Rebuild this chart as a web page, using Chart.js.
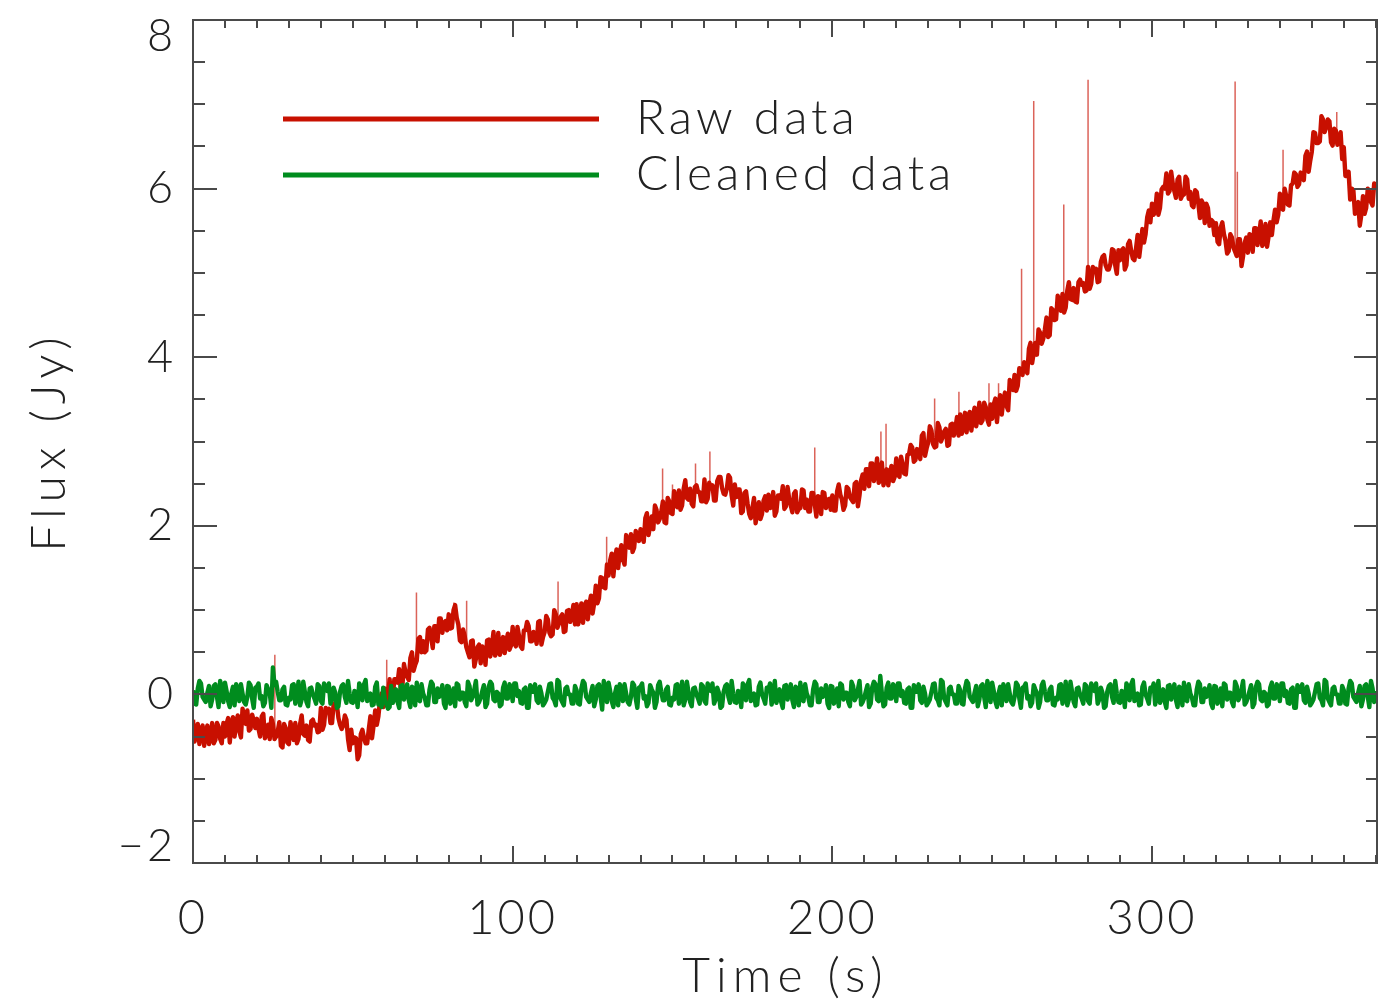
<!DOCTYPE html>
<html>
<head>
<meta charset="utf-8">
<title>Raw and cleaned flux</title>
<script src="https://cdn.jsdelivr.net/npm/chart.js@4.4.1/dist/chart.umd.min.js"></script>
<style>
    html, body { margin: 0; padding: 0; background: #fff; overflow: hidden; }
    #plot { display: block; }
</style>
</head>
<body>
<canvas id="plot" width="1378" height="1000"></canvas>
<script>
// Samples every half second: the *Flux arrays hold t = 0, 1, 2 ... s,
// the *FluxHalf arrays hold t = 0.5, 1.5, 2.5 ... s
const sampleStep = 1;

// Raw flux (Jy), red trace, whole seconds
const rawFlux = [
    -0.30, -0.47, -0.59, -0.37, -0.45, -0.59, -0.34, -0.54, -0.38, -0.58,
    -0.50, -0.28, -0.37, -0.50, -0.25, -0.51, -0.26, -0.19, -0.41, -0.31,
    -0.29, -0.50, -0.23, -0.44, -0.53, -0.35, -0.50, -0.33, -0.63, -0.40,
    -0.59, -0.43, -0.34, -0.53, -0.25, -0.49, -0.54, -0.32, -0.37, -0.45,
    -0.16, -0.36, -0.20, -0.34, -0.11, -0.12, -0.36, -0.37, -0.30, -0.66,
    -0.58, -0.52, -0.72, -0.42, -0.58, -0.41, -0.52, -0.19, -0.26, 0.01,
    0.07, -0.02, -0.07, 0.18, 0.14, 0.05, 0.36, 0.21, 0.43, 0.28,
    0.40, 0.68, 0.63, 0.52, 0.79, 0.55, 0.81, 0.90, 0.73, 0.87,
    0.95, 0.79, 1.06, 0.83, 0.62, 0.69, 0.50, 0.63, 0.33, 0.56,
    0.37, 0.54, 0.64, 0.45, 0.74, 0.51, 0.47, 0.68, 0.63, 0.53,
    0.80, 0.57, 0.69, 0.54, 0.76, 0.81, 0.63, 0.71, 0.86, 0.59,
    0.74, 0.89, 0.69, 1.00, 0.79, 0.92, 0.74, 0.99, 0.86, 1.06,
    1.07, 0.93, 0.85, 1.10, 1.07, 0.96, 1.29, 1.14, 1.38, 1.26,
    1.41, 1.67, 1.61, 1.50, 1.77, 1.54, 1.81, 1.90, 1.74, 1.88,
    1.96, 1.81, 2.15, 2.00, 1.96, 2.19, 2.08, 2.29, 2.03, 2.29,
    2.14, 2.31, 2.42, 2.24, 2.54, 2.31, 2.26, 2.46, 2.40, 2.29,
    2.55, 2.32, 2.45, 2.30, 2.53, 2.58, 2.38, 2.44, 2.57, 2.24,
    2.34, 2.43, 2.17, 2.41, 2.14, 2.21, 2.03, 2.28, 2.14, 2.35,
    2.37, 2.22, 2.12, 2.36, 2.32, 2.20, 2.46, 2.24, 2.38, 2.16,
    2.21, 2.42, 2.31, 2.17, 2.39, 2.11, 2.34, 2.40, 2.21, 2.32,
    2.36, 2.18, 2.49, 2.31, 2.24, 2.44, 2.31, 2.50, 2.23, 2.54,
    2.44, 2.67, 2.74, 2.53, 2.80, 2.54, 2.48, 2.67, 2.62, 2.53,
    2.80, 2.58, 2.73, 2.61, 2.85, 2.93, 2.78, 2.89, 3.07, 2.83,
    2.99, 3.13, 2.93, 3.22, 3.00, 3.12, 2.95, 3.20, 3.07, 3.29,
    3.32, 3.19, 3.11, 3.35, 3.30, 3.18, 3.46, 3.25, 3.41, 3.20,
    3.27, 3.51, 3.44, 3.32, 3.58, 3.37, 3.66, 3.79, 3.66, 3.83,
    3.94, 3.81, 4.17, 4.05, 4.03, 4.29, 4.22, 4.47, 4.26, 4.56,
    4.45, 4.64, 4.75, 4.59, 4.89, 4.68, 4.66, 4.89, 4.86, 4.78,
    5.07, 4.87, 5.01, 4.89, 5.13, 5.21, 5.04, 5.11, 5.27, 4.99,
    5.15, 5.29, 5.09, 5.38, 5.17, 5.29, 5.19, 5.52, 5.46, 5.74,
    5.82, 5.73, 5.69, 5.99, 6.00, 5.94, 6.20, 5.97, 6.11, 5.88,
    5.93, 6.11, 5.96, 5.78, 5.96, 5.65, 5.82, 5.82, 5.56, 5.61,
    5.59, 5.34, 5.60, 5.38, 5.26, 5.42, 5.25, 5.40, 5.08, 5.36,
    5.24, 5.44, 5.53, 5.33, 5.61, 5.36, 5.31, 5.60, 5.62, 5.60,
    5.94, 5.75, 5.91, 5.80, 6.06, 6.17, 6.05, 6.18, 6.39, 6.20,
    6.44, 6.66, 6.54, 6.86, 6.67, 6.82, 6.55, 6.71, 6.52, 6.67,
    6.49, 6.15, 5.87, 5.98, 5.81, 5.56, 5.91, 5.77, 5.97, 5.80, 6.05
];

// Raw flux (Jy), red trace, half seconds
const rawFluxHalf = [
    -0.56, -0.35, -0.41, -0.61, -0.37, -0.51, -0.58, -0.34, -0.53, -0.34,
    -0.35, -0.57, -0.27, -0.34, -0.44, -0.17, -0.35, -0.43, -0.24, -0.40,
    -0.41, -0.26, -0.52, -0.36, -0.28, -0.53, -0.44, -0.61, -0.35, -0.57,
    -0.33, -0.54, -0.58, -0.35, -0.47, -0.37, -0.56, -0.30, -0.36, -0.44,
    -0.42, -0.16, -0.17, -0.34, -0.10, -0.28, -0.41, -0.25, -0.53, -0.42,
    -0.51, -0.77, -0.47, -0.52, -0.58, -0.26, -0.37, -0.36, -0.07, -0.15,
    -0.07, 0.18, -0.02, 0.18, 0.30, 0.10, 0.26, 0.17, 0.50, 0.35,
    0.66, 0.50, 0.50, 0.77, 0.68, 0.81, 0.63, 0.90, 0.85, 0.76,
    0.78, 1.00, 0.91, 0.64, 0.77, 0.56, 0.44, 0.64, 0.42, 0.59,
    0.57, 0.35, 0.65, 0.57, 0.46, 0.73, 0.56, 0.49, 0.72, 0.58,
    0.61, 0.80, 0.57, 0.76, 0.86, 0.63, 0.74, 0.60, 0.87, 0.68,
    0.93, 0.73, 0.71, 0.95, 0.84, 0.95, 0.75, 1.00, 0.94, 0.83,
    0.83, 1.08, 1.05, 0.89, 1.17, 1.08, 1.08, 1.39, 1.27, 1.54,
    1.59, 1.40, 1.72, 1.68, 1.60, 1.89, 1.74, 1.69, 1.94, 1.82,
    1.87, 2.09, 1.89, 2.11, 2.24, 2.04, 2.17, 2.04, 2.33, 2.15,
    2.41, 2.22, 2.19, 2.44, 2.33, 2.44, 2.23, 2.48, 2.40, 2.29,
    2.28, 2.51, 2.48, 2.30, 2.58, 2.45, 2.37, 2.60, 2.36, 2.49,
    2.43, 2.15, 2.39, 2.26, 2.09, 2.33, 2.15, 2.08, 2.30, 2.18,
    2.21, 2.40, 2.17, 2.36, 2.47, 2.23, 2.32, 2.16, 2.41, 2.20,
    2.43, 2.21, 2.17, 2.39, 2.26, 2.35, 2.14, 2.39, 2.31, 2.19,
    2.18, 2.41, 2.37, 2.19, 2.46, 2.34, 2.28, 2.52, 2.36, 2.61,
    2.67, 2.47, 2.74, 2.64, 2.51, 2.75, 2.56, 2.48, 2.71, 2.58,
    2.61, 2.82, 2.62, 2.84, 2.96, 2.76, 2.91, 2.79, 3.10, 2.92,
    3.18, 2.97, 2.94, 3.17, 3.05, 3.15, 2.96, 3.21, 3.16, 3.07,
    3.09, 3.34, 3.31, 3.13, 3.40, 3.28, 3.22, 3.46, 3.26, 3.44,
    3.44, 3.23, 3.55, 3.49, 3.42, 3.73, 3.61, 3.60, 3.87, 3.79,
    3.86, 4.10, 3.93, 4.17, 4.33, 4.16, 4.33, 4.24, 4.58, 4.44,
    4.73, 4.55, 4.53, 4.79, 4.69, 4.82, 4.65, 4.92, 4.88, 4.79,
    4.81, 5.07, 5.05, 4.90, 5.19, 5.09, 5.04, 5.28, 5.09, 5.27,
    5.27, 5.04, 5.34, 5.26, 5.15, 5.45, 5.35, 5.36, 5.66, 5.60,
    5.69, 5.94, 5.77, 6.02, 6.18, 5.97, 6.06, 5.89, 6.14, 5.92,
    6.14, 5.88, 5.80, 5.98, 5.82, 5.86, 5.59, 5.77, 5.63, 5.45,
    5.37, 5.54, 5.46, 5.23, 5.46, 5.30, 5.20, 5.40, 5.20, 5.42,
    5.46, 5.25, 5.53, 5.45, 5.32, 5.58, 5.44, 5.45, 5.75, 5.69,
    5.77, 6.00, 5.81, 6.04, 6.19, 6.02, 6.19, 6.10, 6.44, 6.33,
    6.67, 6.54, 6.56, 6.82, 6.73, 6.80, 6.51, 6.69, 6.57, 6.35,
    6.15, 6.20, 6.00, 5.70, 5.84, 5.69, 5.70, 6.00, 5.84, 6.06
];

// Cleaned flux (Jy), green trace, whole seconds
const cleanFlux = [
    0.05, -0.12, 0.16, -0.03, -0.09, 0.10, -0.06, 0.12, -0.15, 0.07,
    0.14, -0.08, 0.01, -0.13, 0.06, 0.12, -0.09, -0.03, 0.11, -0.16,
    0.09, -0.05, -0.14, 0.11, 0.02, 0.32, 0.15, -0.07, 0.06, -0.12,
    -0.04, 0.11, -0.11, 0.15, -0.06, 0.03, -0.14, 0.08, -0.05, 0.12,
    -0.08, 0.13, 0.04, -0.11, 0.08, -0.16, 0.03, 0.12, -0.10, 0.01,
    -0.10, 0.03, 0.13, -0.07, 0.17, -0.05, -0.13, 0.09, -0.12, -0.15,
    -0.05, -0.17, 0.10, -0.03, -0.09, 0.10, -0.06, 0.12, -0.15, 0.07,
    0.14, -0.08, 0.01, -0.13, 0.06, 0.12, -0.09, -0.03, 0.11, -0.16,
    0.09, -0.05, -0.14, 0.11, 0.02, -0.09, 0.15, -0.07, 0.06, -0.12,
    -0.04, 0.11, -0.11, 0.15, -0.06, 0.03, -0.14, 0.08, -0.05, 0.12,
    -0.08, 0.13, 0.04, -0.11, 0.08, -0.16, 0.03, 0.12, -0.10, 0.01,
    -0.10, 0.03, 0.13, -0.07, 0.17, -0.05, -0.13, 0.09, 0.00, -0.11,
    0.05, -0.12, 0.16, -0.03, -0.09, 0.10, -0.06, 0.12, -0.18, 0.07,
    0.14, -0.08, 0.01, -0.13, 0.06, 0.12, -0.09, -0.03, 0.11, -0.16,
    0.09, -0.05, -0.14, 0.11, 0.02, -0.09, 0.15, -0.07, 0.06, -0.12,
    -0.04, 0.11, -0.11, 0.15, -0.06, 0.03, -0.14, 0.08, -0.05, 0.12,
    -0.08, 0.13, 0.04, -0.11, 0.08, -0.16, 0.03, 0.12, -0.10, 0.01,
    -0.10, 0.03, 0.13, -0.07, 0.17, -0.05, -0.13, 0.09, 0.00, -0.11,
    0.05, -0.12, 0.16, -0.03, -0.09, 0.10, -0.06, 0.12, -0.15, 0.07,
    0.14, -0.08, 0.01, -0.13, 0.06, 0.12, -0.09, -0.03, 0.11, -0.16,
    0.09, -0.05, -0.14, 0.11, 0.02, -0.09, 0.15, -0.07, 0.06, -0.12,
    -0.04, 0.11, -0.11, 0.15, -0.06, 0.22, -0.14, 0.08, -0.05, 0.12,
    -0.08, 0.13, 0.04, -0.11, 0.08, -0.16, 0.03, 0.12, -0.10, 0.01,
    -0.10, 0.03, 0.13, -0.07, 0.17, -0.05, -0.13, 0.09, 0.00, -0.11,
    0.05, -0.12, 0.16, -0.03, -0.09, 0.10, -0.06, 0.12, -0.15, 0.07,
    0.14, -0.08, 0.01, -0.13, 0.06, 0.12, -0.09, -0.03, 0.11, -0.16,
    0.09, -0.05, -0.14, 0.11, 0.02, -0.09, 0.15, -0.07, 0.06, -0.12,
    -0.04, 0.11, -0.11, 0.15, -0.06, 0.03, -0.14, 0.08, -0.05, 0.12,
    -0.08, 0.13, 0.04, -0.11, 0.08, -0.16, 0.03, 0.12, -0.10, 0.01,
    -0.10, 0.03, 0.13, -0.07, 0.17, -0.05, -0.13, 0.09, 0.00, -0.11,
    0.05, -0.12, 0.16, -0.03, -0.09, 0.10, -0.06, 0.12, -0.15, 0.07,
    0.14, -0.08, 0.01, -0.13, 0.06, 0.12, -0.09, -0.03, 0.11, -0.16,
    0.09, -0.05, -0.14, 0.11, 0.02, -0.09, 0.15, -0.07, 0.06, -0.12,
    -0.04, 0.11, -0.11, 0.15, -0.06, 0.03, -0.14, 0.08, -0.05, 0.12,
    -0.08, 0.13, 0.04, -0.11, 0.08, -0.16, 0.03, 0.12, -0.10, 0.01,
    -0.10, 0.03, 0.13, -0.07, 0.17, -0.05, -0.13, 0.09, 0.00, -0.11,
    0.05, -0.12, 0.16, -0.03, -0.09, 0.10, -0.06, 0.12, -0.15, 0.07, 0.04
];

// Cleaned flux (Jy), green trace, half seconds
const cleanFluxHalf = [
    -0.11, 0.07, 0.13, -0.06, 0.02, -0.14, 0.10, -0.03, 0.16, -0.09,
    0.04, -0.15, 0.09, 0.12, -0.08, 0.01, -0.12, 0.14, -0.05, 0.08,
    0.13, -0.02, -0.10, 0.06, -0.16, 0.11, 0.03, -0.07, 0.09, -0.13,
    -0.06, 0.12, -0.04, -0.13, 0.15, -0.09, 0.07, 0.00, -0.11, 0.10,
    -0.11, 0.07, 0.13, -0.06, 0.02, -0.14, 0.10, -0.03, 0.16, -0.09,
    0.04, -0.15, 0.09, 0.12, -0.08, 0.01, -0.12, 0.14, -0.05, 0.08,
    -0.12, -0.15, -0.10, 0.06, -0.16, 0.11, 0.03, -0.07, 0.09, -0.13,
    -0.06, 0.12, -0.04, -0.13, 0.15, -0.09, 0.07, 0.00, -0.11, 0.10,
    -0.11, 0.07, 0.13, -0.06, 0.02, -0.14, 0.10, -0.03, 0.16, -0.09,
    0.04, -0.15, 0.09, 0.12, -0.08, 0.01, -0.12, 0.14, -0.05, 0.08,
    0.13, -0.02, -0.10, 0.06, -0.16, 0.11, 0.03, -0.07, 0.09, -0.13,
    -0.06, 0.12, -0.04, -0.13, 0.15, -0.09, 0.07, 0.00, -0.11, 0.10,
    -0.11, 0.07, 0.13, -0.06, 0.02, -0.14, 0.10, -0.03, 0.16, -0.09,
    0.04, -0.15, 0.09, 0.12, -0.08, 0.01, -0.12, 0.14, -0.05, 0.08,
    0.13, -0.02, -0.10, 0.06, -0.16, 0.11, 0.03, -0.07, 0.09, -0.13,
    -0.06, 0.12, -0.04, -0.13, 0.15, -0.09, 0.07, 0.00, -0.11, 0.10,
    -0.11, 0.07, 0.13, -0.06, 0.02, -0.14, 0.10, -0.03, 0.16, -0.09,
    0.04, -0.15, 0.09, 0.12, -0.08, 0.01, -0.12, 0.14, -0.05, 0.08,
    0.13, -0.02, -0.10, 0.06, -0.16, 0.11, 0.03, -0.07, 0.09, -0.13,
    -0.06, 0.12, -0.04, -0.13, 0.15, -0.09, 0.07, 0.00, -0.11, 0.10,
    -0.11, 0.07, 0.13, -0.06, 0.02, -0.14, 0.10, -0.03, 0.16, -0.09,
    0.04, -0.15, 0.09, 0.12, -0.08, 0.01, -0.12, 0.14, -0.05, 0.08,
    0.13, -0.02, -0.10, 0.06, -0.16, 0.11, 0.03, -0.07, 0.09, -0.13,
    -0.06, 0.12, -0.04, -0.13, 0.15, -0.09, 0.07, 0.00, -0.11, 0.10,
    -0.11, 0.07, 0.13, -0.06, 0.02, -0.14, 0.10, -0.03, 0.16, -0.09,
    0.04, -0.15, 0.09, 0.12, -0.08, 0.01, -0.12, 0.14, -0.05, 0.08,
    0.13, -0.02, -0.10, 0.06, -0.16, 0.11, 0.03, -0.07, 0.09, -0.13,
    -0.06, 0.12, -0.04, -0.13, 0.15, -0.09, 0.07, 0.00, -0.11, 0.10,
    -0.11, 0.07, 0.13, -0.06, 0.02, -0.14, 0.10, -0.03, 0.16, -0.09,
    0.04, -0.15, 0.09, 0.12, -0.08, 0.01, -0.12, 0.14, -0.05, 0.08,
    0.13, -0.02, -0.10, 0.06, -0.16, 0.11, 0.03, -0.07, 0.09, -0.13,
    -0.06, 0.12, -0.04, -0.13, 0.15, -0.09, 0.07, 0.00, -0.11, 0.10,
    -0.11, 0.07, 0.13, -0.06, 0.02, -0.14, 0.10, -0.03, 0.16, -0.09,
    0.04, -0.15, 0.09, 0.12, -0.08, 0.01, -0.12, 0.14, -0.05, 0.08,
    0.13, -0.02, -0.10, 0.06, -0.16, 0.11, 0.03, -0.07, 0.09, -0.13,
    -0.06, 0.12, -0.04, -0.13, 0.15, -0.09, 0.07, 0.00, -0.11, 0.10,
    -0.11, 0.07, 0.13, -0.06, 0.02, -0.14, 0.10, -0.03, 0.16, -0.09
];

// Glitches in the raw data: time (s), level they start from, peak (Jy)
const spikeTimes = [25.6, 60.6, 69.9, 81.6, 85.6, 114.2, 129.4, 146.9, 150, 157.2, 161.7, 194.5, 215.2,
    216.8, 232, 239.6, 249, 252, 259.2, 263, 272.4, 280, 326, 326.7, 341, 357.8];
const spikeBase = [-0.44, 0.0, 0.46, 0.9, 0.57, 0.86, 1.43, 2.15, 2.25, 2.38, 2.42, 2.29, 2.6,
    2.59, 3.05, 3.15, 3.33, 3.41, 3.82, 4.07, 4.63, 4.92, 5.3, 5.28, 5.84, 6.6];
const spikeTop = [0.47, 0.41, 1.21, 1.09, 1.11, 1.34, 1.87, 2.68, 2.49, 2.74, 2.88, 2.93, 3.12,
    3.21, 3.51, 3.59, 3.69, 3.69, 5.05, 7.04, 5.81, 7.29, 7.27, 6.2, 6.46, 6.91];

const xTicks = [0, 100, 200, 300];
const yTicks = [-2, 0, 2, 4, 6, 8];

const RED = 'rgb(200, 16, 0)';
const GREEN = 'rgb(0, 140, 30)';
const FONT = "Lato, 'DejaVu Sans', sans-serif";
const TEXT = '#222';

// merge whole and half second samples into one time ordered series
function interleave(whole, half) {
    const pts = [];
    whole.forEach((v, i) => {
        pts.push({ x: i * sampleStep, y: v });
        if (i < half.length) pts.push({ x: (i + 0.5) * sampleStep, y: half[i] });
    });
    return pts;
}

const rawPoints = interleave(rawFlux, rawFluxHalf);
const cleanPoints = interleave(cleanFlux, cleanFluxHalf);

// each spike is a vertical segment, separated from the next by a gap
const spikePoints = [];
spikeTimes.forEach((t, i) => {
    spikePoints.push({ x: t, y: spikeBase[i] }, { x: t, y: spikeTop[i] }, { x: t, y: null });
});

// Wide letter spacing like the original vector font:
// axis titles are drawn before the datasets, tick labels (z: 1) after them
const spacing = {
    id: 'spacing',
    beforeDraw(chart) {
        chart.ctx.letterSpacing = '6px';
    },
    beforeDatasetsDraw(chart) {
        chart.ctx.letterSpacing = '3px';
    }
};

// Boxed frame with inward ticks on all four sides
const frameTicks = {
    id: 'frameTicks',
    afterDraw(chart) {
        const { ctx, chartArea: a, scales: { x, y } } = chart;
        ctx.save();
        ctx.strokeStyle = '#4a4a4a';
        ctx.lineWidth = 2;
        ctx.strokeRect(a.left, a.top, a.right - a.left - 1, a.bottom - a.top);
        ctx.beginPath();
        for (let v = 0; v <= x.max; v += 10) {
            const px = Math.round(x.getPixelForValue(v));
            const len = v % 100 === 0 ? 17 : 8;
            ctx.moveTo(px, a.bottom); ctx.lineTo(px, a.bottom - len);
            ctx.moveTo(px, a.top); ctx.lineTo(px, a.top + len);
        }
        for (let v = y.min; v <= y.max; v += 0.5) {
            const py = Math.round(y.getPixelForValue(v));
            const len = v % 2 === 0 ? 24 : 12;
            ctx.moveTo(a.left, py); ctx.lineTo(a.left + len, py);
            ctx.moveTo(a.right, py); ctx.lineTo(a.right - len, py);
        }
        ctx.stroke();
        ctx.restore();
    }
};

// Legend drawn inside the plot, long line samples then text
const insideLegend = {
    id: 'insideLegend',
    afterDraw(chart) {
        const ctx = chart.ctx;
        ctx.save();
        ctx.font = `300 48px ${FONT}`;
        ctx.letterSpacing = '4px';
        ctx.fillStyle = TEXT;
        ctx.textBaseline = 'middle';
        [0, 1].forEach((idx, row) => {
            const ds = chart.data.datasets[idx];
            const yy = 119 + row * 56;
            ctx.strokeStyle = ds.borderColor;
            ctx.lineWidth = 5;
            ctx.beginPath();
            ctx.moveTo(283, yy);
            ctx.lineTo(599, yy);
            ctx.stroke();
            ctx.fillText(ds.label, 636, yy);
        });
        ctx.restore();
    }
};

new Chart(document.getElementById('plot'), {
    type: 'line',
    data: {
        datasets: [
            {
                label: 'Raw data',
                data: rawPoints,
                borderColor: RED,
                borderWidth: 4.4,
                borderJoinStyle: 'round',
                pointRadius: 0,
                tension: 0,
                order: 1
            },
            {
                label: 'Cleaned data',
                data: cleanPoints,
                borderColor: GREEN,
                borderWidth: 4.4,
                borderJoinStyle: 'round',
                pointRadius: 0,
                tension: 0,
                order: 0
            },
            {
                label: 'spikes',
                data: spikePoints,
                borderColor: 'rgba(200, 16, 0, 0.65)',
                borderWidth: 1.5,
                pointRadius: 0,
                spanGaps: false,
                order: 2
            }
        ]
    },
    options: {
        responsive: false,
        animation: false,
        devicePixelRatio: 1,
        layout: { padding: { top: 20, right: 0, left: 0, bottom: 0 } },
        plugins: {
            legend: { display: false },
            tooltip: { enabled: false }
        },
        scales: {
            x: {
                type: 'linear',
                min: 0,
                max: 370.7,
                grid: { display: false, drawTicks: false },
                border: { display: false },
                afterBuildTicks: s => { s.ticks = xTicks.map(v => ({ value: v })); },
                afterFit: s => { s.height = 137; s.paddingLeft = 0; s.paddingRight = 0; },
                ticks: {
                    z: 1,
                    autoSkip: false,
                    maxRotation: 0,
                    padding: 32,
                    color: TEXT,
                    font: { family: FONT, size: 47, weight: 300, lineHeight: 1 }
                },
                title: {
                    display: true,
                    text: 'Time (s)',
                    color: TEXT,
                    font: { family: FONT, size: 48, weight: 300, lineHeight: 1 },
                    padding: { top: 0, bottom: -1 }
                }
            },
            y: {
                type: 'linear',
                min: -2,
                max: 8,
                grid: { display: false, drawTicks: false },
                border: { display: false },
                afterBuildTicks: s => { s.ticks = yTicks.map(v => ({ value: v })); },
                afterFit: s => { s.width = 193; s.paddingTop = 0; s.paddingBottom = 0; },
                ticks: {
                    z: 1,
                    autoSkip: false,
                    padding: 17,
                    color: TEXT,
                    font: { family: FONT, size: 45, weight: 300, lineHeight: 0.72 },
                    // end labels sit inside the frame, as in the original
                    callback: v => {
                        const s = v < 0 ? '\u2212' + Math.abs(v) : String(v);
                        if (v === 8) return ['', s];
                        if (v === -2) return [s, ''];
                        return s;
                    }
                },
                title: {
                    display: true,
                    text: 'Flux (Jy)',
                    color: TEXT,
                    font: { family: FONT, size: 48, weight: 300, lineHeight: 1 },
                    padding: { top: 26, bottom: 0 }
                }
            }
        }
    },
    plugins: [spacing, frameTicks, insideLegend]
});
</script>
</body>
</html>
